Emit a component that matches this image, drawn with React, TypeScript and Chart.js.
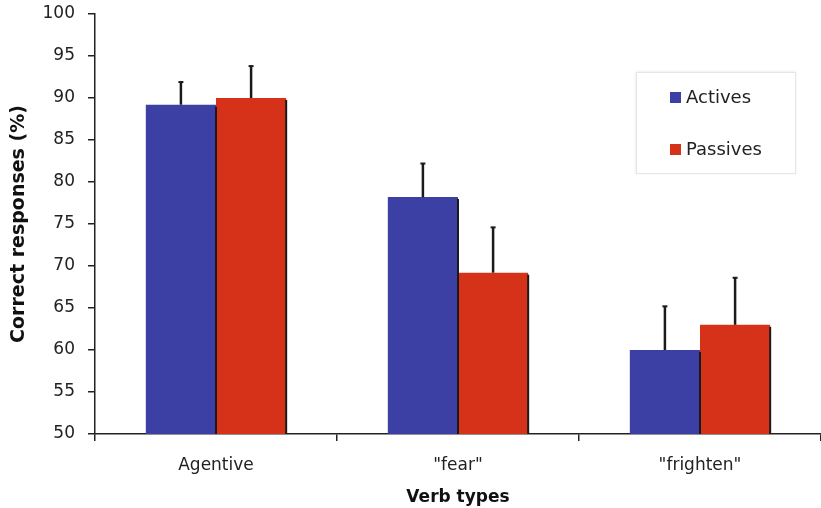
import React, { useEffect, useRef } from "react";
import { Chart, registerables } from "chart.js";

Chart.register(...registerables);

const categories = ["Agentive", "\"fear\"", "\"frighten\""];
const activesValues = [89.2, 78.2, 60.0];
const passivesValues = [90.0, 69.2, 63.0];
const activesErrTop = [91.9, 82.2, 65.2];
const passivesErrTop = [93.8, 74.6, 68.6];
const seriesNames = ["Actives", "Passives"];
const yTicks = [50, 55, 60, 65, 70, 75, 80, 85, 90, 95, 100];

const BLUE = "#3c3fa4";
const RED = "#d6321a";
const FONT = "'DejaVu Sans', Verdana, sans-serif";

const extrasPlugin = {
  id: "extras",
  afterDatasetsDraw(chart: any) {
    const ctx = chart.ctx;
    const yScale = chart.scales.y;
    const bottom = chart.chartArea.bottom;
    const errs = [activesErrTop, passivesErrTop];
    ctx.save();
    chart.data.datasets.forEach((_: any, di: number) => {
      const meta = chart.getDatasetMeta(di);
      meta.data.forEach((bar: any, i: number) => {
        const right = bar.x + bar.width / 2;
        ctx.strokeStyle = "#1a1a1a";
        ctx.lineWidth = 2;
        ctx.beginPath();
        ctx.moveTo(right, bar.y + 2);
        ctx.lineTo(right, bottom);
        ctx.stroke();
        const yTop = yScale.getPixelForValue(errs[di][i]);
        ctx.lineWidth = 2.5;
        ctx.beginPath();
        ctx.moveTo(bar.x, bar.y);
        ctx.lineTo(bar.x, yTop);
        ctx.stroke();
        ctx.lineWidth = 2;
        ctx.beginPath();
        ctx.moveTo(bar.x - 2.5, yTop);
        ctx.lineTo(bar.x + 2.5, yTop);
        ctx.stroke();
      });
    });
    const bx = 636, by = 72, bw = 159, bh = 101;
    ctx.fillStyle = "#ffffff";
    ctx.shadowColor = "rgba(0,0,0,0.12)";
    ctx.shadowBlur = 3;
    ctx.fillRect(bx, by, bw, bh);
    ctx.shadowBlur = 0;
    ctx.shadowColor = "transparent";
    ctx.strokeStyle = "#e6e6e6";
    ctx.lineWidth = 1;
    ctx.strokeRect(bx + 0.5, by + 0.5, bw, bh);
    const colors = [BLUE, RED];
    const ys = [97, 149];
    ctx.font = `18px ${FONT}`;
    ctx.textBaseline = "middle";
    ctx.textAlign = "left";
    seriesNames.forEach((name, k) => {
      ctx.fillStyle = colors[k];
      ctx.fillRect(670, ys[k] - 5, 11, 11);
      ctx.fillStyle = "#222";
      ctx.fillText(name, 686, ys[k] + 1);
    });
    ctx.restore();
  },
};

export default function App() {
  const ref = useRef<HTMLCanvasElement>(null);
  useEffect(() => {
    document.body.style.margin = "0";
    const chart = new Chart(ref.current!, {
      type: "bar",
      data: {
        labels: categories,
        datasets: [
          { label: seriesNames[0], data: activesValues, backgroundColor: BLUE, borderWidth: 0 },
          { label: seriesNames[1], data: passivesValues, backgroundColor: RED, borderWidth: 0 },
        ],
      },
      options: {
        animation: false,
        responsive: false,
        maintainAspectRatio: false,
        layout: { padding: { top: 14, right: 0, left: 8, bottom: 0 } },
        datasets: { bar: { categoryPercentage: 0.58, barPercentage: 1.0 } } as any,
        plugins: {
          legend: { display: false },
          tooltip: { enabled: false },
        },
        scales: {
          x: {
            offset: true,
            grid: {
              offset: true,
              drawOnChartArea: false,
              drawTicks: true,
              tickLength: 7,
              color: "#222",
              lineWidth: 1.5,
            },
            border: { display: true, color: "#222", width: 1.5 },
            ticks: { color: "#222", font: { family: FONT, size: 17 }, padding: 14 },
            title: {
              display: true,
              text: "Verb types",
              color: "#111",
              font: { family: FONT, size: 17, weight: "bold" },
              padding: { top: 2, bottom: 0 },
            },
            afterFit(scale: any) {
              scale.height = 74;
              scale.paddingLeft = 0;
              scale.paddingRight = 0;
            },
          },
          y: {
            min: 50,
            max: 100,
            afterBuildTicks(scale: any) {
              scale.ticks = yTicks.map((v) => ({ value: v }));
            },
            grid: {
              drawOnChartArea: false,
              drawTicks: true,
              tickLength: 7,
              color: "#222",
              lineWidth: 1.5,
            },
            border: { display: true, color: "#222", width: 1.5 },
            ticks: { color: "#222", font: { family: FONT, size: 17 }, padding: 13 },
            title: {
              display: true,
              text: "Correct responses (%)",
              color: "#111",
              font: { family: FONT, size: 19, weight: "bold" },
              padding: { top: 0, bottom: 0 },
            },
            afterFit(scale: any) {
              scale.width = 87;
              scale.paddingTop = 0;
              scale.paddingBottom = 0;
            },
          },
        },
      },
      plugins: [extrasPlugin],
    });
    return () => chart.destroy();
  }, []);
  return (
    <div style={{ position: "absolute", left: 0, top: 0, width: 821, height: 508 }}>
      <canvas ref={ref} width={821} height={508} style={{ width: 821, height: 508 }} />
    </div>
  );
}
